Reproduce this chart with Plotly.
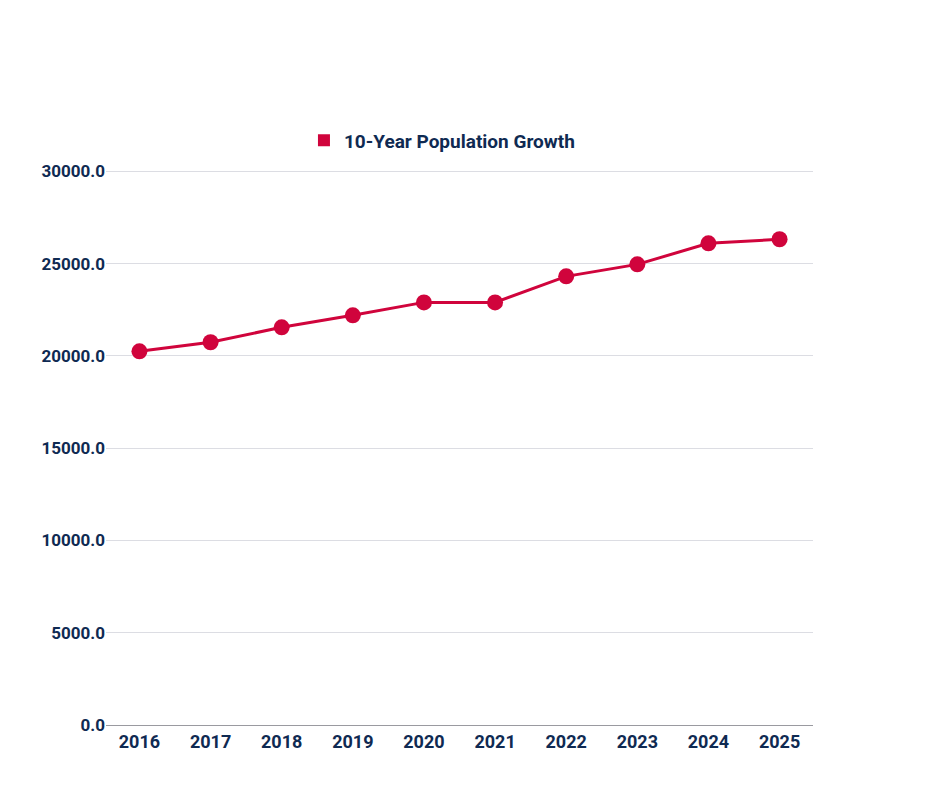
import plotly.graph_objects as go

# Data
years = ["2016", "2017", "2018", "2019", "2020", "2021", "2022", "2023", "2024", "2025"]
population = [20250, 20740, 21550, 22200, 22900, 22900, 24310, 24960, 26100, 26320]
callout_text = "26,597"
series_name = "10-Year Population Growth"

red = "#d0043c"
navy = "#0f2a52"

fig = go.Figure()

fig.add_trace(go.Scatter(
    x=years, y=population, mode="lines+markers",
    line=dict(color=red, width=3),
    marker=dict(size=16, color=red),
    showlegend=False,
))

# legend entry as a square
fig.add_trace(go.Scatter(
    x=[years[0]], y=[None], mode="markers", name=series_name,
    marker=dict(symbol="square", size=22, color=red),
))

# speech-bubble callout, in pixels relative to the last point
bubble = ("M -58,114 L 60,114 Q 70,114 70,104 L 70,59 Q 70,49 60,49 "
          "L 12,49 L 0,17 L -12,49 L -58,49 Q -68,49 -68,59 "
          "L -68,104 Q -68,114 -58,114 Z")
fig.add_shape(type="path", path=bubble,
              xref="x", yref="y", xsizemode="pixel", ysizemode="pixel",
              xanchor=years[-1], yanchor=population[-1],
              line=dict(color=navy, width=3), fillcolor="white", layer="above")
fig.add_annotation(x=years[-1], y=population[-1], xref="x", yref="y",
                   text="<b>" + callout_text + "</b>", showarrow=False,
                   xanchor="center", yanchor="middle", yshift=81,
                   font=dict(size=36, color=navy, family="Roboto"))

fig.update_layout(
    width=940, height=788,
    margin=dict(l=98, r=135, t=108, b=71),
    plot_bgcolor="white", paper_bgcolor="white",
    font=dict(family="Roboto", color=navy),
    legend=dict(orientation="h", x=0.28, y=0.96, xanchor="left", yanchor="middle",
                font=dict(size=19, color=navy, family="Roboto", weight="bold"),
                itemsizing="constant"),
    xaxis=dict(showgrid=False, showline=True, linecolor="#9a9aa0", linewidth=1,
               tickfont=dict(size=18, color=navy, weight="bold"), ticks="",
               range=[-0.47, 9.47]),
    yaxis=dict(range=[0, 33000], tickvals=[0, 5000, 10000, 15000, 20000, 25000, 30000],
               tickformat=".1f", gridcolor="#dcdde3", zeroline=False,
               tickfont=dict(size=17, color=navy, weight="bold"), ticksuffix="  "),
)

fig.write_html("out.html")
